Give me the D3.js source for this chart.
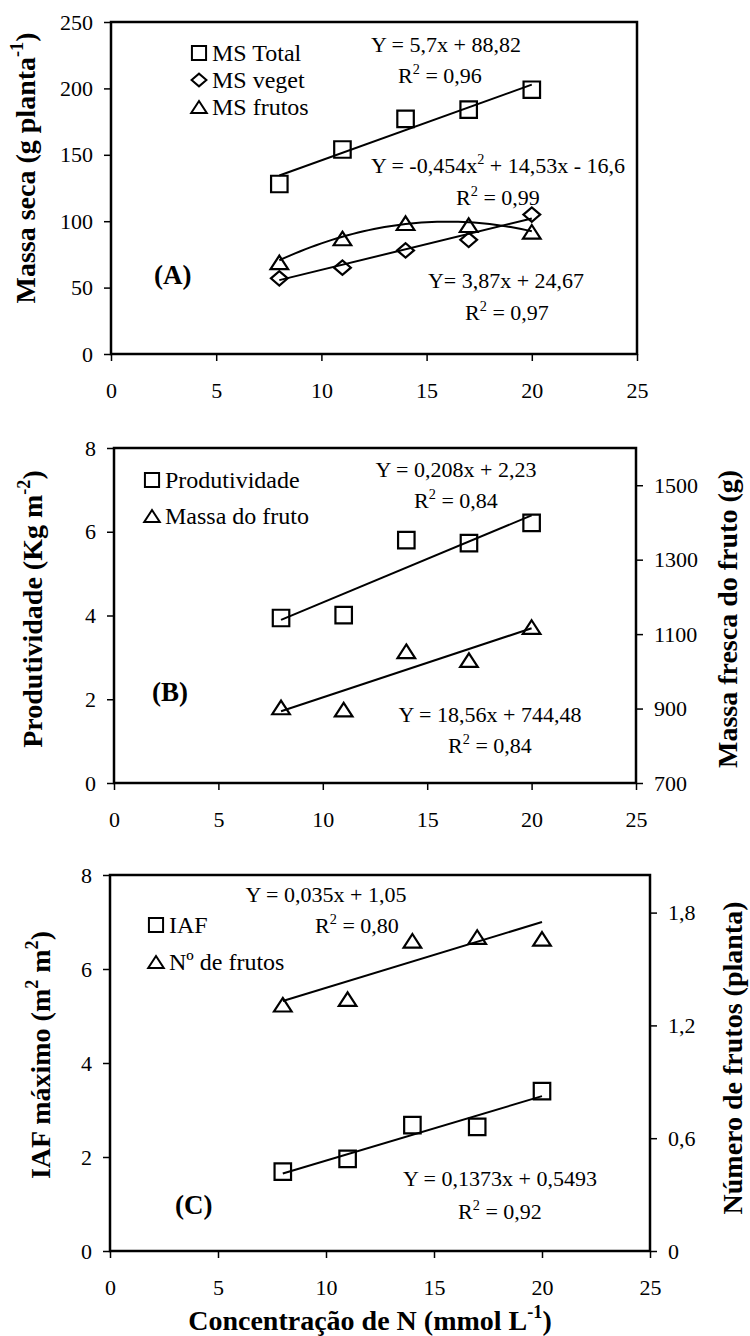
<!DOCTYPE html>
<html>
<head>
<meta charset="utf-8">
<script src="https://cdn.jsdelivr.net/npm/d3@7"></script>
<style>
  body { margin: 0; background: #fff; }
  text { font-family: "Liberation Serif", "Times New Roman", serif; fill: #000; }
</style>
</head>
<body>
<div id="chart"></div>
<script>
// concentracao de N (mmol/L)
const nConc = [8, 11, 14, 17, 20];
const xTicks = [0, 5, 10, 15, 20, 25];

// (A) massa seca
const msTotal = [128, 154, 177, 184, 199];
const msVeget = [57, 65, 78, 86, 105];
const msFrutos = [69, 87, 98.5, 97, 92];
const fitTotal = [5.7, 88.82];
const fitVeget = [3.87, 24.67];
const fitFrutos = [-0.454, 14.53, -16.6];
const ticksA = [0, 50, 100, 150, 200, 250];

// (B) produtividade / massa do fruto
const produtividade = [3.94, 4.01, 5.8, 5.73, 6.21];
const massaFruto = [903, 897, 1054, 1030, 1119];
const fitProd = [0.208, 2.23];
const fitMassa = [18.56, 744.48];
const ticksBLeft = [0, 2, 4, 6, 8];
const ticksBRight = [700, 900, 1100, 1300, 1500];

// (C) IAF / numero de frutos
const iaf = [1.69, 1.96, 2.68, 2.64, 3.4];
const nFrutos = [1.31, 1.34, 1.65, 1.67, 1.66];
const fitIaf = [0.1373, 0.5493];
const fitNFrutos = [0.035, 1.05];
const ticksCLeft = [0, 2, 4, 6, 8];
const ticksCRight = [0, 0.6, 1.2, 1.8];

const svg = d3.select("#chart").append("svg")
    .attr("width", 750).attr("height", 1336);

const comma = d => String(d).replace(".", ",");

// marcadores
const square = { draw(c, s) { const r = Math.sqrt(s) / 2; c.rect(-r, -r, 2 * r, 2 * r); } };
const diamond = { draw(c, s) { const r = Math.sqrt(s) / 2; c.moveTo(-r * 1.05, 0); c.lineTo(0, -r * 0.9); c.lineTo(r * 1.05, 0); c.lineTo(0, r * 0.9); c.closePath(); } };
const triangle = { draw(c, s) { const r = Math.sqrt(s) / 2; c.moveTo(0, -r * 0.85); c.lineTo(r * 1.1, r * 0.85); c.lineTo(-r * 1.1, r * 0.85); c.closePath(); } };

// texto com sobrescritos: parts = [[texto, sup?], ...]
function rich(sel, parts, size) {
    let shifted = false;
    parts.forEach(([t, sup]) => {
        const ts = sel.append("tspan").text(t);
        if (sup && !shifted) { ts.attr("font-size", size * 0.65).attr("dy", -size * 0.42); shifted = true; }
        else if (!sup && shifted) { ts.attr("dy", size * 0.42); shifted = false; }
    });
    return sel;
}

function panel(cfg) {
    const g = svg.append("g");
    const x = d3.scaleLinear().domain([0, 25]).range([cfg.x0, cfg.x1]);
    const yL = d3.scaleLinear().domain(cfg.yDomain).range([cfg.y1, cfg.y0]);
    const yR = cfg.yRDomain ? d3.scaleLinear().domain(cfg.yRDomain).range([cfg.y1, cfg.y0]) : null;

    const ax = g.append("g").attr("transform", `translate(0,${cfg.y1})`)
        .call(d3.axisBottom(x).tickValues(xTicks).tickSize(7).tickPadding(21).tickSizeOuter(0));
    const ay = g.append("g").attr("transform", `translate(${cfg.x0},0)`)
        .call(d3.axisLeft(yL).tickValues(cfg.yTicks).tickSize(7).tickPadding(11).tickSizeOuter(0).tickFormat(comma));
    const axes = [ax, ay];
    if (yR) {
        axes.push(g.append("g").attr("transform", `translate(${cfg.x1},0)`)
            .call(d3.axisRight(yR).tickValues(cfg.yRTicks).tickSize(7).tickPadding(11).tickSizeOuter(0).tickFormat(comma)));
    }
    axes.forEach(a => {
        a.attr("font-family", null);
        a.select(".domain").remove();
        a.selectAll("line").attr("stroke", "#000").attr("stroke-width", 1.5);
        a.selectAll("text").attr("font-size", 22).attr("fill", "#000");
    });

    g.append("rect").attr("x", cfg.x0).attr("y", cfg.y0)
        .attr("width", cfg.x1 - cfg.x0).attr("height", cfg.y1 - cfg.y0)
        .attr("fill", "none").attr("stroke", "#000").attr("stroke-width", 2.5);

    // linhas de tendencia
    cfg.series.forEach(s => {
        const y = s.right ? yR : yL;
        const f = s.fit.length === 3 ? v => s.fit[0] * v * v + s.fit[1] * v + s.fit[2] : v => s.fit[0] * v + s.fit[1];
        const xs = s.fit.length === 3 ? d3.range(8, 20.01, 0.25) : [8, 20];
        g.append("path")
            .attr("d", d3.line().x(v => x(v)).y(v => y(f(v)))(xs))
            .attr("fill", "none").attr("stroke", "#000").attr("stroke-width", 2);
    });

    // pontos
    cfg.series.forEach(s => {
        const y = s.right ? yR : yL;
        g.selectAll(null).data(s.values).enter().append("path")
            .attr("transform", (d, i) => `translate(${x(nConc[i])},${y(d)})`)
            .attr("d", d3.symbol().type(s.symbol).size(s.size))
            .attr("fill", "none").attr("stroke", "#000").attr("stroke-width", 2.2);
    });

    // legenda
    cfg.legend.rows.forEach((r, i) => {
        const cy = cfg.legend.ys[i];
        g.append("path").attr("transform", `translate(${cfg.legend.x},${cy})`)
            .attr("d", d3.symbol().type(r.symbol).size(200))
            .attr("fill", "none").attr("stroke", "#000").attr("stroke-width", 2);
        g.append("text").attr("x", cfg.legend.x + 13).attr("y", cy + 8)
            .attr("font-size", 24).text(r.label);
    });

    // equacoes
    cfg.equations.forEach(e => {
        rich(g.append("text").attr("x", e.x).attr("y", e.y).attr("text-anchor", "middle").attr("font-size", 22), e.parts, 22);
    });

    g.append("text").attr("x", cfg.tag.x).attr("y", cfg.tag.y)
        .attr("font-size", 27).attr("font-weight", "bold").text(cfg.tag.text);

    rich(g.append("text").attr("transform", `translate(${cfg.leftTitle.x},${cfg.leftTitle.y}) rotate(-90)`)
        .attr("text-anchor", "middle").attr("font-size", 28).attr("font-weight", "bold"), cfg.leftTitle.parts, 28);
    if (cfg.rightTitle) {
        rich(g.append("text").attr("transform", `translate(${cfg.rightTitle.x},${cfg.rightTitle.y}) rotate(-90)`)
            .attr("text-anchor", "middle").attr("font-size", 28).attr("font-weight", "bold"), cfg.rightTitle.parts, 28);
    }
}

panel({
    x0: 111, x1: 637, y0: 22, y1: 354,
    yDomain: [0, 250], yTicks: ticksA,
    series: [
        { values: msTotal, fit: fitTotal, symbol: square, size: 272 },
        { values: msVeget, fit: fitVeget, symbol: diamond, size: 256 },
        { values: msFrutos, fit: fitFrutos, symbol: triangle, size: 256 }
    ],
    legend: { x: 199, ys: [53, 80, 107], rows: [
        { symbol: square, label: "MS Total" },
        { symbol: diamond, label: "MS veget" },
        { symbol: triangle, label: "MS frutos" }
    ] },
    equations: [
        { x: 446, y: 52, parts: [["Y = 5,7x + 88,82"]] },
        { x: 440, y: 83, parts: [["R"], ["2", 1], [" = 0,96"]] },
        { x: 498, y: 173, parts: [["Y = -0,454x"], ["2", 1], [" + 14,53x - 16,6"]] },
        { x: 498, y: 205, parts: [["R"], ["2", 1], [" = 0,99"]] },
        { x: 506, y: 288, parts: [["Y= 3,87x + 24,67"]] },
        { x: 507, y: 320, parts: [["R"], ["2", 1], [" = 0,97"]] }
    ],
    tag: { text: "(A)", x: 154, y: 284 },
    leftTitle: { x: 35, y: 168, parts: [["Massa seca (g planta"], ["-1", 1], [")"]] }
});

panel({
    x0: 114, x1: 636, y0: 448, y1: 783,
    yDomain: [0, 8], yTicks: ticksBLeft,
    yRDomain: [700, 1600], yRTicks: ticksBRight,
    series: [
        { values: produtividade, fit: fitProd, symbol: square, size: 272 },
        { values: massaFruto, fit: fitMassa, symbol: triangle, size: 256, right: true }
    ],
    legend: { x: 152, ys: [480, 516], rows: [
        { symbol: square, label: "Produtividade" },
        { symbol: triangle, label: "Massa do fruto" }
    ] },
    equations: [
        { x: 456, y: 477, parts: [["Y = 0,208x + 2,23"]] },
        { x: 456, y: 508, parts: [["R"], ["2", 1], [" = 0,84"]] },
        { x: 490, y: 722, parts: [["Y = 18,56x + 744,48"]] },
        { x: 490, y: 753, parts: [["R"], ["2", 1], [" = 0,84"]] }
    ],
    tag: { text: "(B)", x: 152, y: 701 },
    leftTitle: { x: 42, y: 609, parts: [["Produtividade (Kg m"], ["-2", 1], [")"]] },
    rightTitle: { x: 737, y: 619, parts: [["Massa fresca do fruto (g)"]] }
});

panel({
    x0: 110, x1: 650, y0: 875, y1: 1251,
    yDomain: [0, 8], yTicks: ticksCLeft,
    yRDomain: [0, 2], yRTicks: ticksCRight,
    series: [
        { values: iaf, fit: fitIaf, symbol: square, size: 272 },
        { values: nFrutos, fit: fitNFrutos, symbol: triangle, size: 256, right: true }
    ],
    legend: { x: 156, ys: [925, 962], rows: [
        { symbol: square, label: "IAF" },
        { symbol: triangle, label: "Nº de frutos" }
    ] },
    equations: [
        { x: 326, y: 902, parts: [["Y = 0,035x + 1,05"]] },
        { x: 357, y: 933, parts: [["R"], ["2", 1], [" = 0,80"]] },
        { x: 500, y: 1186, parts: [["Y = 0,1373x + 0,5493"]] },
        { x: 500, y: 1219, parts: [["R"], ["2", 1], [" = 0,92"]] }
    ],
    tag: { text: "(C)", x: 175, y: 1214 },
    leftTitle: { x: 50, y: 1055, parts: [["IAF máximo (m"], ["2", 1], [" m"], ["2", 1], [")"]] },
    rightTitle: { x: 742, y: 1058, parts: [["Número de frutos (planta)"]] }
});

rich(svg.append("text").attr("x", 370).attr("y", 1330).attr("text-anchor", "middle")
    .attr("font-size", 28).attr("font-weight", "bold"),
    [["Concentração de N (mmol L"], ["-1", 1], [")"]], 28);
</script>
</body>
</html>
